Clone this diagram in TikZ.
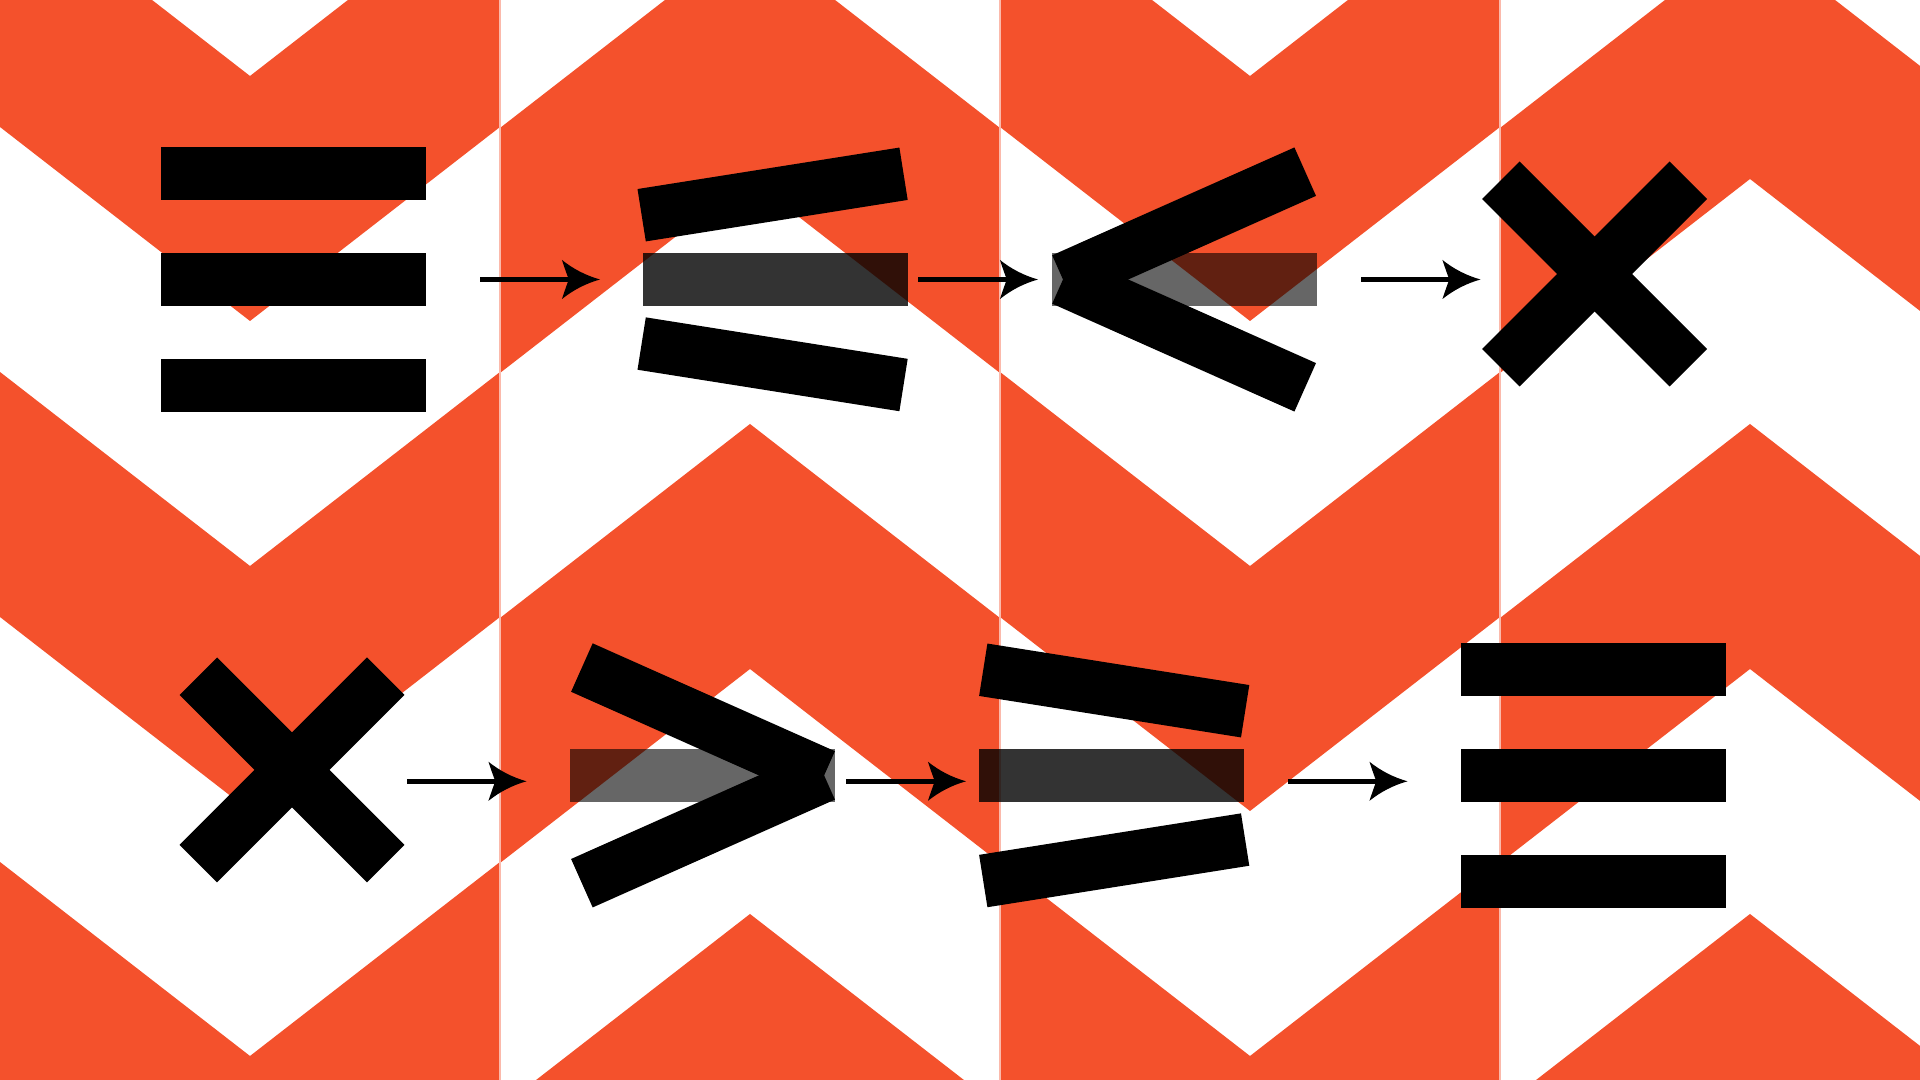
\documentclass[tikz,border=0pt]{standalone}
\usetikzlibrary{arrows.meta}
\definecolor{chevron}{RGB}{244,81,44}
% filled head with swept, slightly hollow sides
\pgfdeclarearrow{
  name = Swept,
  parameters = {\the\pgfarrowlength,\the\pgfarrowwidth},
  setup code = {
    \pgfarrowssettipend{0pt}
    \pgfarrowssetlineend{-0.7\pgfarrowlength}
    \pgfarrowssetbackend{-\pgfarrowlength}
    \pgfarrowssavethe\pgfarrowlength
    \pgfarrowssavethe\pgfarrowwidth
  },
  drawing code = {
    \pgfpathmoveto{\pgfpointorigin}
    \pgfpathquadraticcurveto{\pgfpoint{-.55\pgfarrowlength}{.15\pgfarrowwidth}}{\pgfpoint{-\pgfarrowlength}{.5\pgfarrowwidth}}
    \pgfpathquadraticcurveto{\pgfpoint{-.9\pgfarrowlength}{.2\pgfarrowwidth}}{\pgfpoint{-.82\pgfarrowlength}{0pt}}
    \pgfpathquadraticcurveto{\pgfpoint{-.9\pgfarrowlength}{-.2\pgfarrowwidth}}{\pgfpoint{-\pgfarrowlength}{-.5\pgfarrowwidth}}
    \pgfpathquadraticcurveto{\pgfpoint{-.55\pgfarrowlength}{-.15\pgfarrowwidth}}{\pgfpointorigin}
    \pgfpathclose
    \pgfusepathqfill
  },
  defaults = {length = 0.38cm, width = 0.39cm}
}
\begin{document}
\begin{tikzpicture}[x=0.01cm, y=-0.01cm,
  slab/.style={fill=black, rectangle, inner sep=0pt, minimum width=2.65cm, minimum height=0.53cm},
  slabdim/.style={slab, fill opacity=0.8},
  slabpale/.style={slab, fill opacity=0.6},
  go/.style={line width=0.055cm, -{Swept[length=0.38cm, width=0.39cm]}}]

  % canvas
  \useasboundingbox (0,0) rectangle (1920,1080);
  \clip (0,0) rectangle (1920,1080);
  \fill[white] (0,0) rectangle (1920,1080);

  % chevron bands, columns pointing down
  \foreach \cx in {250,1250}
    \foreach \ya in {76,566,1056}
      \fill[chevron] ({\cx-250},{\ya-194}) -- (\cx,\ya) -- ({\cx+250},{\ya-194})
        -- ({\cx+250},{\ya+51}) -- (\cx,{\ya+245}) -- ({\cx-250},{\ya+51}) -- cycle;
  % chevron bands, columns pointing up
  \foreach \cx in {750,1750}
    \foreach \ya in {-66,424,914}
      \fill[chevron] ({\cx-250},{\ya+194}) -- (\cx,\ya) -- ({\cx+250},{\ya+194})
        -- ({\cx+250},{\ya+439}) -- (\cx,{\ya+245}) -- ({\cx-250},{\ya+439}) -- cycle;
  % seams between columns
  \foreach \sx in {500,1000,1500}
    \draw[chevron!40, line width=0.013cm] (\sx,0) -- (\sx,1080);

  % top row: three bars
  \node[slab] (eqa) at (293.3,173.5) {};
  \node[slab] (eqb) at (293.3,279.4) {};
  \node[slab] (eqc) at (293.3,385.4) {};

  % bars opening up
  \node[slab, rotate=9] (opa) at (772.6,194.5) {};
  \node[slabdim] (opb) at (775.4,279.5) {};
  \node[slab, rotate=-9] (opc) at (772.6,364.3) {};

  % less than
  \node[slab, rotate=24] (lta) at (1184.1,225.6) {};
  \node[slabpale] (ltb) at (1184.7,279.5) {};
  \node[slab, rotate=-24] (ltc) at (1184.1,333.4) {};

  % times
  \node[slab, rotate=45] (tma) at (1594.7,274) {};
  \node[slab, rotate=-45] (tmb) at (1594.7,274) {};

  % top row arrows
  \coordinate (a1s) at (480,279.5);   \coordinate (a1e) at (600,279.5);
  \coordinate (a2s) at (918,279.5);   \coordinate (a2e) at (1038,279.5);
  \coordinate (a3s) at (1361,279.5);  \coordinate (a3e) at (1480.5,279.5);
  \draw[go] (a1s) -- (a1e);
  \draw[go] (a2s) -- (a2e);
  \draw[go] (a3s) -- (a3e);

  % bottom row: times
  \node[slab, rotate=45] (tmc) at (292,770) {};
  \node[slab, rotate=-45] (tmd) at (292,770) {};

  % greater than
  \node[slab, rotate=-24] (gta) at (703,721.5) {};
  \node[slabpale] (gtb) at (702.4,775.5) {};
  \node[slab, rotate=24] (gtc) at (703,829.3) {};

  % bars closing down
  \node[slab, rotate=-9] (cla) at (1114.2,690.5) {};
  \node[slabdim] (clb) at (1111.5,775.5) {};
  \node[slab, rotate=9] (clc) at (1114.2,860.3) {};

  % three bars again
  \node[slab] (eqd) at (1593.5,669.3) {};
  \node[slab] (eqe) at (1593.5,775.4) {};
  \node[slab] (eqf) at (1593.5,881.3) {};

  % bottom row arrows
  \coordinate (a4s) at (407,781.3);   \coordinate (a4e) at (526.5,781.3);
  \coordinate (a5s) at (846,781.3);   \coordinate (a5e) at (966,781.3);
  \coordinate (a6s) at (1288,781.3);  \coordinate (a6e) at (1407.5,781.3);
  \draw[go] (a4s) -- (a4e);
  \draw[go] (a5s) -- (a5e);
  \draw[go] (a6s) -- (a6e);

\end{tikzpicture}
\end{document}
